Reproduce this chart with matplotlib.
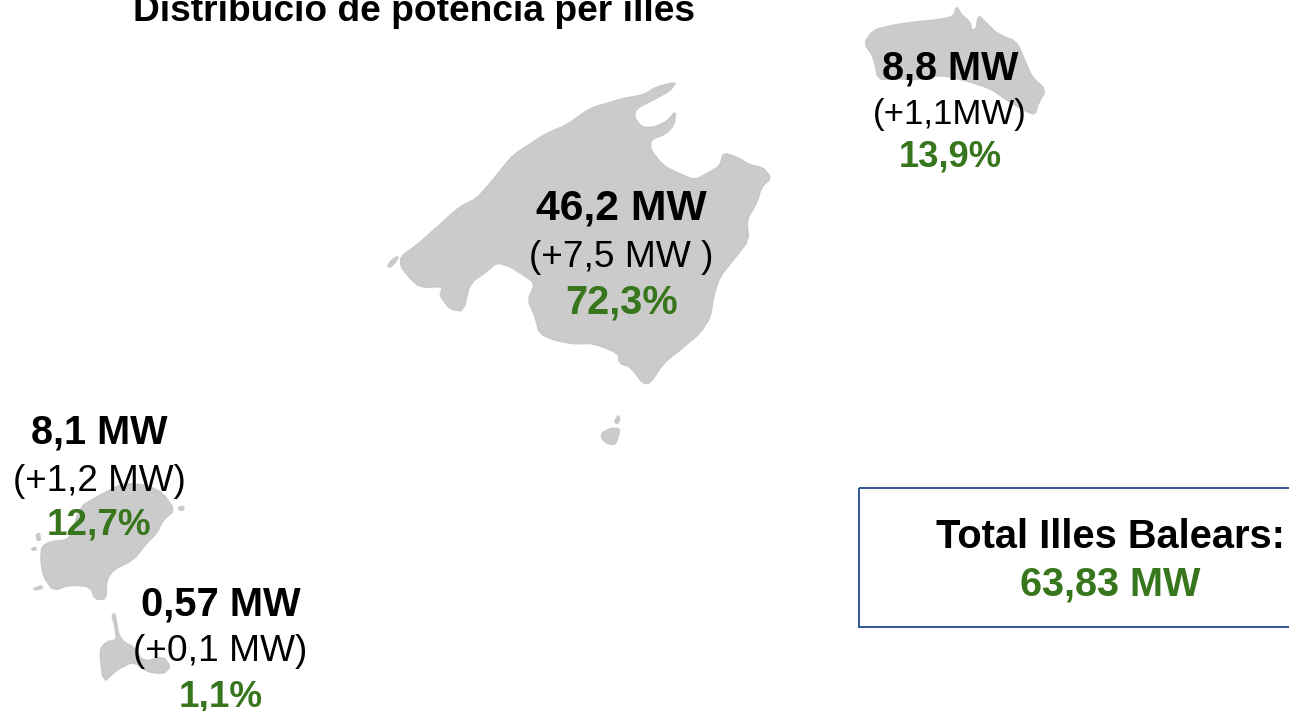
import matplotlib
matplotlib.use('Agg')
import matplotlib.pyplot as plt
from matplotlib.patches import Polygon, Rectangle

plt.rcParams['font.family'] = ['Liberation Sans', 'DejaVu Sans']

GREEN = '#38761d'
LAND = '#cbcbcb'
BLUE = '#2f5597'

title = 'Distribució de potència per illes'
mw_labels = ['46,2 MW', '8,8 MW', '8,1 MW', '0,57 MW']
delta_labels = ['(+7,5 MW )', '(+1,1MW)', '(+1,2 MW)', '(+0,1 MW)']
share_labels = ['72,3%', '13,9%', '12,7%', '1,1%']
total_label = 'Total Illes Balears:'
total_value = '63,83 MW'

# outlines, in zoomed crop pixels (3x)
mallorca = [(62, 560), (110, 525), (150, 490), (200, 445), (240, 410), (290, 385), (330, 340), (370, 290),
            (400, 255), (460, 215), (500, 190), (560, 165), (630, 115), (680, 100), (730, 85), (790, 75),
            (830, 50), (890, 36), (870, 62), (820, 90), (770, 115), (762, 140), (785, 172), (820, 172),
            (860, 155), (888, 122), (882, 165), (860, 190), (812, 210), (812, 240), (850, 287), (900, 312),
            (945, 330), (990, 305), (1020, 287), (1030, 248), (1075, 263), (1110, 285), (1150, 293),
            (1174, 325), (1145, 350), (1130, 400), (1100, 450), (1107, 510), (1060, 570), (1020, 620),
            (1000, 680), (992, 740), (960, 790), (900, 840), (850, 880), (812, 938), (790, 942), (750, 890),
            (718, 880), (715, 850), (640, 820), (580, 822), (520, 810), (478, 790), (465, 740), (443, 690),
            (465, 640), (430, 615), (390, 590), (350, 578), (320, 605), (270, 640), (250, 724), (210, 718),
            (178, 675), (190, 650), (120, 652), (90, 625), (62, 590)]
dragonera = [(22, 590), (35, 570), (55, 558), (50, 572), (32, 592)]
cabrera = [(665, 1090), (690, 1075), (720, 1075), (715, 1100), (705, 1125), (680, 1120), (665, 1105)]
cabrera_islet = [(703, 1055), (715, 1035), (720, 1050), (712, 1062)]
menorca = [(42, 130), (70, 90), (130, 75), (200, 65), (260, 60), (310, 50), (320, 18), (335, 45), (360, 65),
           (365, 90), (378, 88), (385, 45), (410, 70), (440, 100), (500, 125), (520, 170), (545, 230),
           (588, 270), (565, 310), (555, 345), (520, 330), (470, 300), (420, 265), (340, 240), (270, 225),
           (200, 240), (130, 235), (85, 240), (70, 170)]
ibiza = [(125, 230), (150, 215), (200, 210), (215, 190), (240, 110), (300, 75), (370, 40), (440, 45),
         (490, 70), (524, 120), (490, 150), (470, 190), (440, 220), (400, 270), (340, 300), (320, 330),
         (318, 388), (285, 388), (270, 350), (210, 345), (160, 362), (130, 320), (122, 270)]
ibiza_islets = [[(100, 355), (125, 347), (128, 355), (105, 360)],
                [(108, 195), (118, 188), (122, 210), (112, 212)],
                [(535, 112), (550, 108), (552, 120), (540, 122)],
                [(95, 235), (108, 232), (108, 240), (97, 241)]]
formentera = [(335, 435), (345, 430), (352, 470), (355, 490), (370, 515), (400, 530), (430, 575), (490, 560),
              (512, 590), (490, 612), (440, 605), (400, 575), (350, 600), (310, 638), (298, 540), (320, 515),
              (350, 510), (345, 470)]


def crop_to_px(points, x0, y0):
    return [(x0 + x / 3, y0 + y / 3) for x, y in points]


def soften(points):
    # cut the corners a bit so the coast is not so angular
    out = []
    for i, (x1, y1) in enumerate(points):
        x2, y2 = points[(i + 1) % len(points)]
        out.append((0.8 * x1 + 0.2 * x2, 0.8 * y1 + 0.2 * y2))
        out.append((0.2 * x1 + 0.8 * x2, 0.2 * y1 + 0.8 * y2))
    return out


fig = plt.figure(figsize=(12.89, 7.11), dpi=100)
ax = fig.add_axes([0, 0, 1, 1])
ax.set_xlim(0, 1289)
ax.set_ylim(711, 0)
ax.axis('off')

shapes = [crop_to_px(mallorca, 380, 70), crop_to_px(dragonera, 380, 70), crop_to_px(cabrera, 380, 70),
          crop_to_px(cabrera_islet, 380, 70), crop_to_px(menorca, 850, 0), crop_to_px(ibiza, 0, 470),
          crop_to_px(formentera, 0, 470)]
shapes += [crop_to_px(p, 0, 470) for p in ibiza_islets]
for shape in shapes:
    ax.add_patch(Polygon(soften(shape), closed=True, facecolor=LAND, edgecolor='#c8c8c8', linewidth=1,
                         joinstyle='round'))

ax.add_patch(Rectangle((859, 488), 460, 139, facecolor='none', edgecolor=BLUE, linewidth=1.4))

ax.text(414, 21, title, fontsize=26.7, fontweight='bold', ha='center', va='baseline', color='black')

# one label block per island: centre x, three baselines, three font sizes
centres = [621.5, 950, 99, 220.5]
mw_y = [220, 80, 444, 615]
delta_y = [267, 124, 491, 661]
share_y = [313, 167, 535, 706]
mw_size = [30.7, 28.5, 28.5, 28.7]
delta_size = [26.7, 25, 26.6, 26.7]
share_size = [28.6, 26.2, 26.6, 26.6]

for i in range(4):
    ax.text(centres[i], mw_y[i], mw_labels[i], fontsize=mw_size[i], fontweight='bold', ha='center', va='baseline')
    ax.text(centres[i], delta_y[i], delta_labels[i], fontsize=delta_size[i], ha='center', va='baseline')
    ax.text(centres[i], share_y[i], share_labels[i], fontsize=share_size[i], fontweight='bold', color=GREEN,
            ha='center', va='baseline')

ax.text(1110, 548, total_label, fontsize=28.7, fontweight='bold', ha='center', va='baseline')
ax.text(1110, 596, total_value, fontsize=28.5, fontweight='bold', color=GREEN, ha='center', va='baseline')

plt.savefig('out.png', dpi=100)
